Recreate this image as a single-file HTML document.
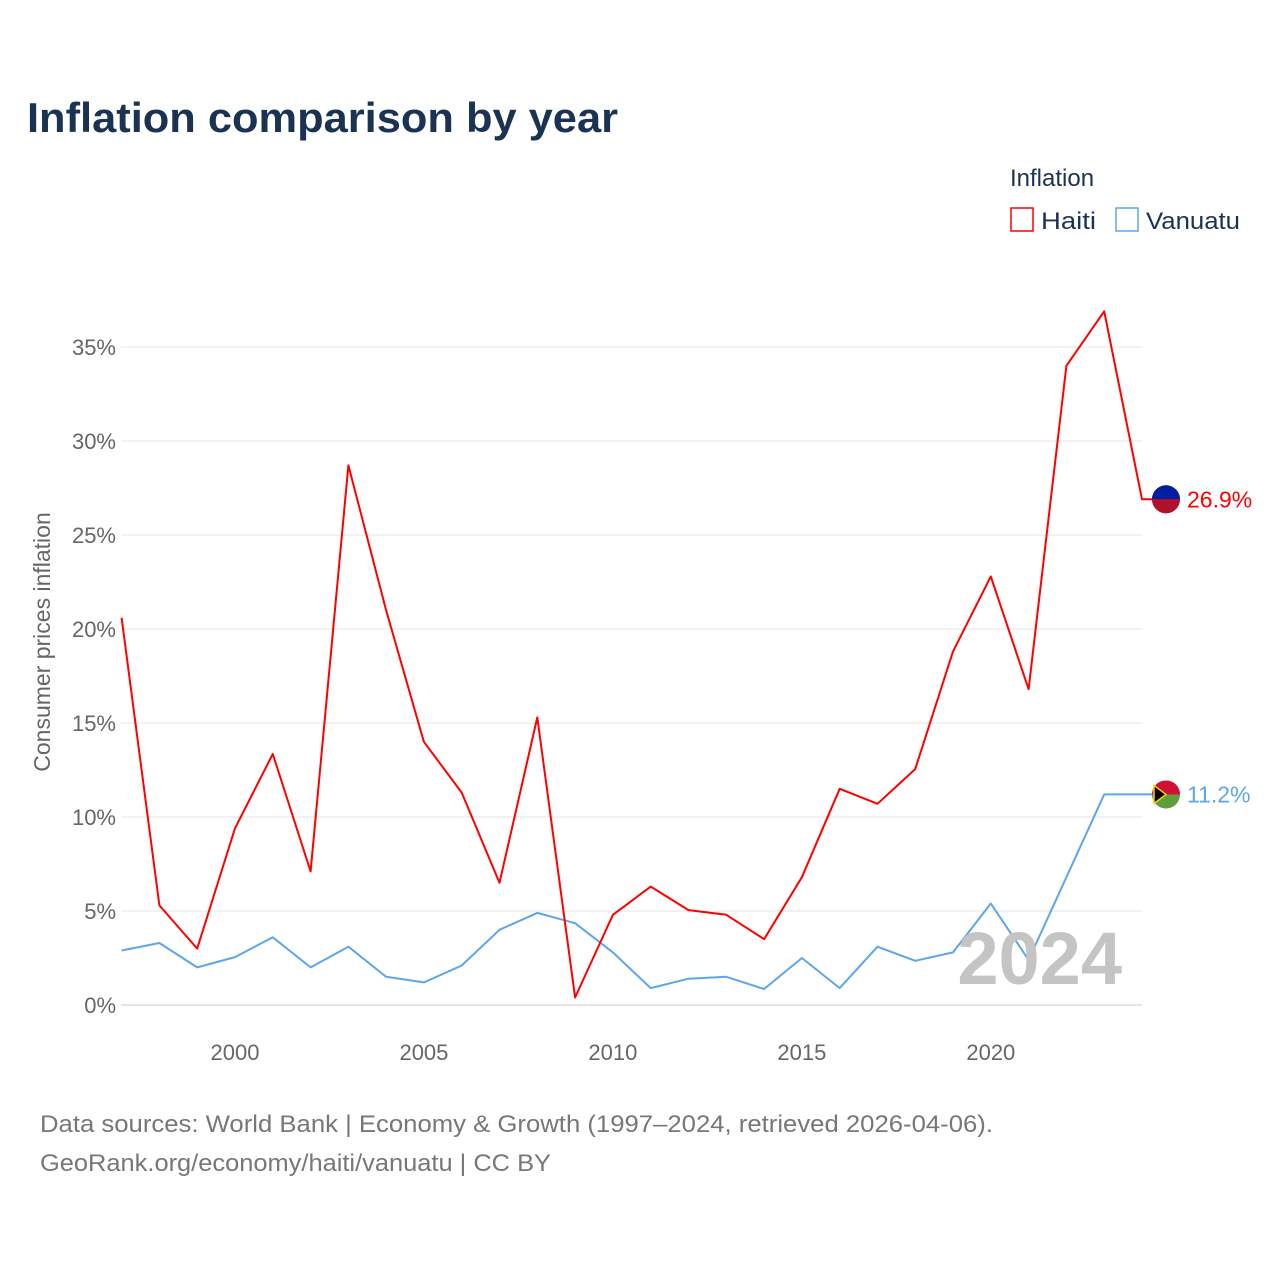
<!DOCTYPE html>
<html><head><meta charset="utf-8"><style>
body{margin:0;background:#fff;font-family:"Liberation Sans",sans-serif}
svg text{font-family:"Liberation Sans",sans-serif}
</style></head><body>
<svg width="1280" height="1280">
<text x="27" y="132" font-size="42" font-weight="bold" fill="#1b3352" textLength="591" lengthAdjust="spacingAndGlyphs">Inflation comparison by year</text>
<g>
<text x="1010" y="186" font-size="24" fill="#1b3352">Inflation</text>
<g><rect x="1011" y="208" width="22" height="23" fill="none" stroke="#f00" stroke-width="1.5"/><text x="1041" y="229" font-size="24" fill="#1b3352" textLength="55" lengthAdjust="spacingAndGlyphs">Haiti</text></g>
<g><rect x="1116" y="208" width="22" height="23" fill="none" stroke="#5ea6ea" stroke-width="1.5"/><text x="1146" y="229" font-size="24" fill="#1b3352" textLength="94" lengthAdjust="spacingAndGlyphs">Vanuatu</text></g>
</g>
<g id="grid"></g><g id="axes"></g><g id="marks"></g>
<text x="1122" y="984" font-size="74" font-weight="bold" fill="#c4c4c4" text-anchor="end">2024</text>
<text transform="translate(50,642) rotate(-90)" font-size="23" fill="#666" text-anchor="middle">Consumer prices inflation</text>
<text x="40" y="1132" font-size="24" fill="#777" textLength="953" lengthAdjust="spacingAndGlyphs">Data sources: World Bank | Economy &amp; Growth (1997–2024, retrieved 2026-04-06).</text>
<text x="40" y="1171" font-size="24" fill="#777" textLength="511" lengthAdjust="spacingAndGlyphs">GeoRank.org/economy/haiti/vanuatu | CC BY</text>
</svg>
<script>
const years=[1997,1998,1999,2000,2001,2002,2003,2004,2005,2006,2007,2008,2009,2010,2011,2012,2013,2014,2015,2016,2017,2018,2019,2020,2021,2022,2023,2024];
const haiti=[20.6,5.3,3.0,9.4,13.35,7.1,28.7,21.0,14.0,11.3,6.5,15.3,0.4,4.8,6.3,5.05,4.8,3.5,6.8,11.5,10.7,12.55,18.8,22.8,16.8,34.0,36.9,26.9];
const vanuatu=[2.9,3.3,2.0,2.55,3.6,2.0,3.1,1.5,1.2,2.1,4.0,4.9,4.35,2.8,0.9,1.4,1.5,0.85,2.5,0.9,3.1,2.35,2.8,5.4,2.4,6.8,11.2,11.2];
const yTicks=[0,5,10,15,20,25,30,35];
const xTicks=[2000,2005,2010,2015,2020];
const NS="http://www.w3.org/2000/svg";
const x=v=>121.6+(v-1997)*(1142-121.6)/27;
const y=v=>1005-v*18.8;
function mk(tag,attrs,parent,txt){const e=document.createElementNS(NS,tag);for(const k in attrs)e.setAttribute(k,attrs[k]);if(txt!==undefined)e.textContent=txt;document.getElementById(parent).appendChild(e);return e;}
yTicks.forEach(t=>{
 const l=mk('line',{x1:121,x2:1142,y1:y(t),y2:y(t),stroke:t===0?'#ccc':'#e6e6e6','stroke-width':1},'grid');
 
 
 const tx=mk('text',{x:116,y:y(t)+8,'font-size':22,fill:'#666','text-anchor':'end'},'axes',t+'%');
 
 
});
xTicks.forEach(t=>{
 const tx=mk('text',{x:x(t),y:1060,'font-size':22,fill:'#666','text-anchor':'middle'},'axes',t);
 
 
});
function series(vals,color,name){
 const d=vals.map((v,i)=>(i?'L':'M')+x(years[i]).toFixed(1)+','+y(v).toFixed(1)).join(' ');
 const last=vals[vals.length-1];
 const p=mk('path',{d:d+' L1166,'+y(last).toFixed(1),fill:'none',stroke:color,'stroke-width':2,'stroke-linejoin':'round'},'marks');
 
 
 const c=mk('circle',{cx:1166,cy:y(last),r:14,fill:color},'marks');
 
 
 const t=mk('text',{x:1187,y:y(last)+8,'font-size':23,fill:color},'marks',last.toFixed(1)+'%');
 
 
}
series(vanuatu,'#5ea6ea','vanuatu');
series(haiti,'#f00','haiti');
const hy=y(haiti[haiti.length-1]);
const h1=mk('path',{d:`M1152,${hy} a14,14 0 0,1 28,0 z`,fill:'#00209f'},'marks');


const h2=mk('path',{d:`M1152,${hy} a14,14 0 0,0 28,0 z`,fill:'#b0102a'},'marks');


const vy=y(vanuatu[vanuatu.length-1]);
const v1=mk('path',{d:`M1152,${vy} a14,14 0 0,1 28,0 z`,fill:'#d21034'},'marks');


const v2=mk('path',{d:`M1152,${vy} a14,14 0 0,0 28,0 z`,fill:'#5f9e3c'},'marks');


const v3=mk('path',{d:`M1154,${vy-9} L1166,${vy} L1154,${vy+9} Z`,fill:'#000',stroke:'#fdce12','stroke-width':1.5},'marks');


</script>
</body></html>
